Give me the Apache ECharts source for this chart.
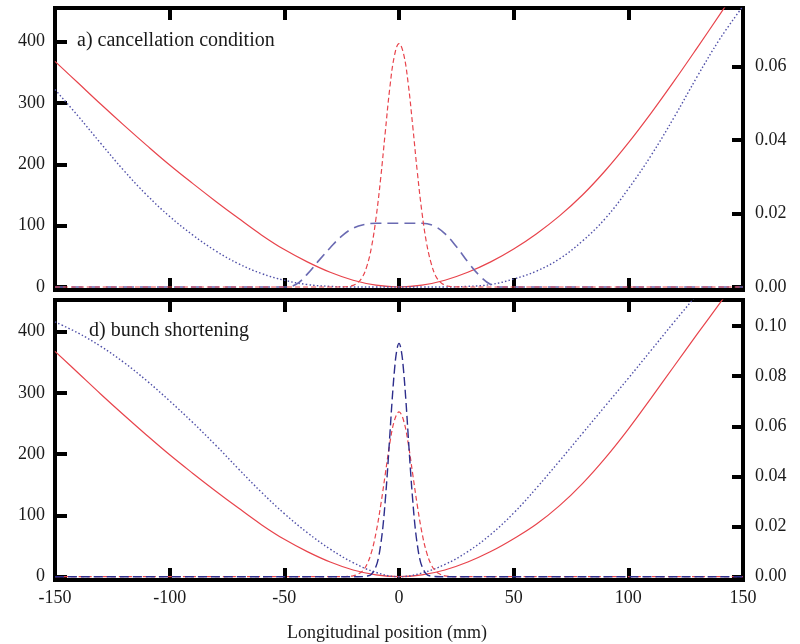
<!DOCTYPE html>
<html>
<head>
<meta charset="utf-8">
<script src="https://cdn.jsdelivr.net/npm/echarts@6/dist/echarts.min.js"></script>
<style>
html,body{margin:0;padding:0;background:#fff;}
#chart{width:800px;height:644px;}
</style>
</head>
<body>
<div id="chart"></div>
<script>
// ---------- data (left-axis units) ----------
const xTickLabels = [-150, -100, -50, 0, 50, 100, 150];
const leftTicks = [0, 100, 200, 300, 400];
const rightTicksTop = [0, 0.02, 0.04, 0.06];
const rightTicksBottom = [0, 0.02, 0.04, 0.06, 0.08, 0.10];

const gridX = [-150,-140,-130,-120,-110,-100,-90,-80,-70,-60,-50,-40,-30,-20,-10,0,10,20,30,40,50,60,70,80,90,100,110,120,130,140,150];

// panel a) cancellation condition
const topSolid  = [368,333,298,264,231,199,169,140,112,85,61,41,24,11,3,0,3,11,24,41,62,87,116,150,190,235,284,336,390,445,501];
const topDotted = [322,279,234,190,150,115,85,59,38,22,11,4,1,0,0,0,0,0,1,4,13,26,46,75,112,160,215,277,343,405,458];

const topPeakX = [-150,-30,-24,-22,-20,-18,-16,-14,-12,-10,-8,-6,-4,-2,0,2,4,6,8,10,12,14,16,18,20,22,24,30,150];
const topPeak  = [0,0,0.3,1,2.6,7,16,34,65,113,177,252,325,377,397,380,332,262,187,122,72,39,18,8,3,1,0.3,0,0];

const topFlatX = [-150,-50,-45,-40,-35,-30,-25,-20,-15,-10,0,10,15,20,25,30,35,40,45,50,150];
const topFlat  = [0,0,4,21,43,64,83,96,102,104,104,104,100,87,66,41,19,4,0,0,0];

// panel d) bunch shortening
const botSolid  = [368,333,298,264,231,199,169,140,112,85,61,41,24,11,3,0,3,11,24,41,62,86,116,152,194,241,292,344,396,447,499];
const botDotted = [416,398,376,350,320,287,252,215,176,138,103,72,45,23,7,0,6,20,41,69,104,145,189,234,279,324,370,416,461,506,551];

const botRedX = [-150,-26,-22,-20,-18,-16,-14,-12,-10,-8,-6,-4,-2,0,2,4,6,8,10,12,14,16,18,20,22,26,150];
const botRed  = [0,0,0.5,1.4,4,9,20,40,72,116,167,218,255,269,255,218,167,116,72,40,20,9,4,1.4,0.5,0,0];

const botBlueX = [-150,-18,-14,-12,-10,-9,-8,-7,-6,-5,-4,-3,-2,-1,0,1,2,3,4,5,6,7,8,9,10,12,14,18,150];
const botBlue  = [0,0,1,4,17,30,52,82,124,174,231,288,336,369,381,369,336,288,231,174,124,82,52,30,17,4,1,0,0];

// ---------- helpers ----------
const pairs = (xs, ys) => xs.map((x, i) => [x, ys[i]]);
const FONT = "'Liberation Serif','Times New Roman',serif";
const TXT = '#1a1a1a';
const RED = '#e8444c';
const DOT = '#5050a8';
const LAV = '#6a6ab2';
const NAVY = '#2e2e8c';

const tick = {show: true, inside: true, length: 12, lineStyle: {color: '#000', width: 4}};

function xAx(gi, pos, labels) {
  return {
    type: 'value', gridIndex: gi, position: pos, min: -150, max: 150, interval: 50,
    axisLine: {show: false, onZero: false}, splitLine: {show: false},
    axisTick: tick,
    axisLabel: {show: labels, margin: 9, fontFamily: FONT, fontSize: 18, color: TXT, customValues: xTickLabels}
  };
}
function yAx(gi, pos, min, max, ticks, fmt) {
  return {
    type: 'value', gridIndex: gi, position: pos, min: min, max: max,
    axisLine: {show: false, onZero: false}, splitLine: {show: false},
    axisTick: Object.assign({}, tick, {customValues: ticks, length: pos === 'left' ? 12 : 11}),
    axisLabel: {show: true, customValues: ticks, margin: pos === 'left' ? 10 : 12,
      fontFamily: FONT, fontSize: 18, color: TXT, formatter: fmt}
  };
}
function line(xi, yi, data, color, type, width, z) {
  return {
    type: 'line', xAxisIndex: xi, yAxisIndex: yi, data: data,
    showSymbol: false, symbol: 'none', smooth: 0.4, clip: true, z: z,
    lineStyle: {color: color, type: type, width: width}
  };
}

const chart = echarts.init(document.getElementById('chart'), null, {renderer: 'canvas'});
chart.setOption({
  animation: false,
  backgroundColor: '#fff',
  grid: [
    {left: 55, width: 688, top: 8, height: 282, show: true, borderColor: '#000', borderWidth: 4, backgroundColor: 'transparent'},
    {left: 55, width: 688, top: 300, height: 280, show: true, borderColor: '#000', borderWidth: 4, backgroundColor: 'transparent'}
  ],
  xAxis: [
    xAx(0, 'bottom', false),
    xAx(0, 'top', false),
    xAx(1, 'bottom', true),
    xAx(1, 'top', false)
  ],
  yAxis: [
    yAx(0, 'left', -4.89, 455, leftTicks, v => String(Math.round(v))),
    yAx(0, 'right', -0.000816, 0.07592, rightTicksTop, v => v.toFixed(2)),
    yAx(1, 'left', -5.39, 451.8, leftTicks, v => String(Math.round(v))),
    yAx(1, 'right', -0.00132, 0.1104, rightTicksBottom, v => v.toFixed(2))
  ],
  series: [
    line(0, 0, pairs(gridX, topSolid), RED, 'solid', 1.2, 3),
    line(0, 0, pairs(gridX, topDotted), DOT, [1.5, 2.2], 1.4, 3),
    line(0, 0, pairs(topFlatX, topFlat), LAV, [11, 6], 1.6, 4),
    line(0, 0, pairs(topPeakX, topPeak), RED, [5, 3], 1.2, 5),
    line(2, 2, pairs(gridX, botSolid), RED, 'solid', 1.2, 3),
    line(2, 2, pairs(gridX, botDotted), DOT, [1.5, 2.2], 1.4, 3),
    line(2, 2, pairs(botRedX, botRed), RED, [5, 3], 1.2, 4),
    line(2, 2, pairs(botBlueX, botBlue), NAVY, [9, 4], 1.4, 5)
  ],
  graphic: [
    {type: 'text', left: 77, top: 31, style: {text: 'a) cancellation condition', font: '20px ' + FONT, fill: TXT}, z: 10},
    {type: 'text', left: 89, top: 321, style: {text: 'd) bunch shortening', font: '20px ' + FONT, fill: TXT}, z: 10},
    {type: 'text', left: 287, top: 624, style: {text: 'Longitudinal position (mm)', font: '18px ' + FONT, fill: TXT}, z: 10}
  ]
});
</script>
</body>
</html>
